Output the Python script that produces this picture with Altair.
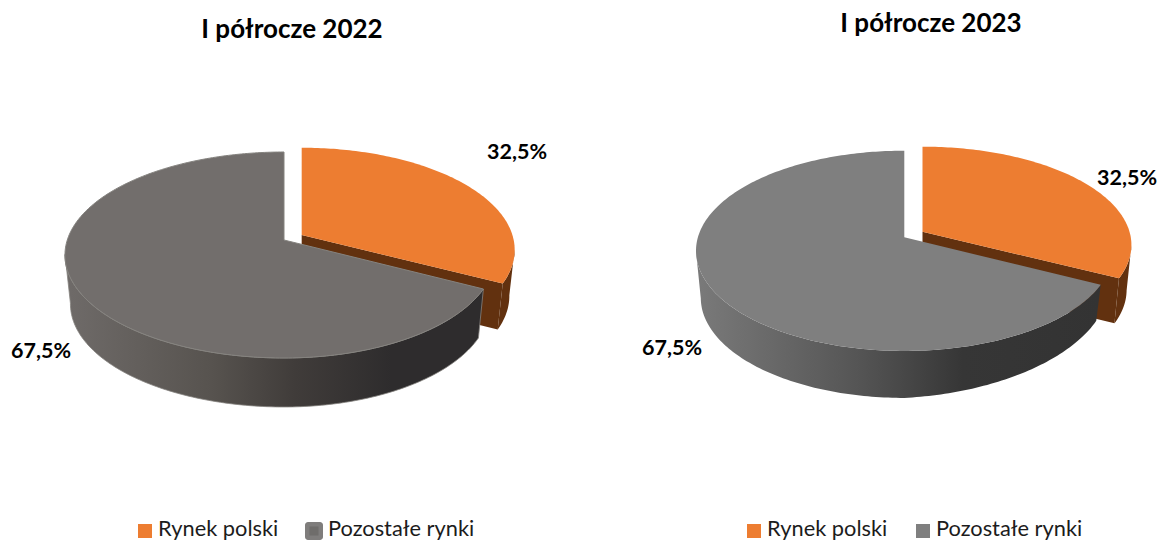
import numpy as np
import pandas as pd
import altair as alt

categories = ["Rynek polski", "Pozostałe rynki"]
panel_titles = ["I półrocze 2022", "I półrocze 2023"]
shares_2022 = [32.5, 67.5]
shares_2023 = [32.5, 67.5]

ORANGE = "#ed7d31"
BROWN = "#62310f"
XS = alt.Scale(domain=[8, 1158])
YS = alt.Scale(domain=[541, 8])


def pts(g, t0, t1, bottom=False):
    th = np.radians(np.arange(t0, t1 + 0.001, 1.0))
    u, v = np.sin(th), np.cos(th)
    d = 1 + g["k"] * v
    r = np.where(u > 0, g["rr"], g["rl"])
    s = g["shrink"] if bottom else 1.0
    x = g["cx"] + s * r * u / d
    y = g["cy"] - g["s"] * v / d
    if bottom:
        tip = g.get("tip_depth", g["depth"])
        frac = np.clip(u / np.sin(np.radians(117)), 0, 1)
        y = y + g["depth"] + (tip - g["depth"]) * frac
    return list(zip(x, y))


def poly(points, fill, stroke=None, sw=0):
    df = pd.DataFrame(points + points[:1], columns=["x", "y"])
    df["i"] = range(len(df))
    mk = dict(fill=fill, strokeWidth=sw, stroke=stroke if stroke else "transparent", interpolate="linear", clip=False)
    return alt.Chart(df).mark_line(**mk).encode(
        x=alt.X("x:Q", scale=XS, axis=None),
        y=alt.Y("y:Q", scale=YS, axis=None),
        order=alt.Order("i:Q"),
    )


def grad(stops):
    return alt.LinearGradient(gradient="linear", x1=0, x2=1, y1=0, y2=0,
                              stops=[alt.GradientStop(offset=o, color=c) for o, c in stops])


def pie(shares, go, gg, gray_top, wall_stops, edge):
    a = shares[0] * 3.6
    layers = []
    apex = (go["cx"], go["cy"])
    corner = pts(go, a, a)[0]
    corner_b = pts(go, a, a, True)[0]
    apex_b = (go["cx"], go["cy"] + go["depth"])
    layers.append(poly([apex, corner, corner_b, apex_b], BROWN))
    layers.append(poly(pts(go, 98, a) + pts(go, 98, a, True)[::-1], BROWN))
    layers.append(poly([apex] + pts(go, 0, a), ORANGE))
    layers.append(poly(pts(gg, a, 262) + pts(gg, a, 262, True)[::-1], grad(wall_stops), edge, 0.8 if edge else 0))
    layers.append(poly([(gg["cx"], gg["cy"])] + pts(gg, a, 360), gray_top, edge, 1 if edge else 0))
    return layers


geo_o1 = dict(cx=301.7, cy=235, rr=210.7, rl=210.7, s=100, k=0.1456, shrink=0.975, depth=46)
geo_g1 = dict(cx=284, cy=240, rr=209, rl=216.7, s=100.8, k=0.1456, shrink=0.975, depth=49)
geo_o2 = dict(cx=922.5, cy=231.7, rr=207, rl=207, s=96.5, k=0.135, shrink=0.977, depth=45)
geo_g2 = dict(cx=904.3, cy=237.3, rr=207, rl=206.4, s=98.3, k=0.135, shrink=0.977, depth=47, tip_depth=36)

layers = []
layers += pie(shares_2022, geo_o1, geo_g1, "#726e6c",
              [(0, "#6f6b69"), (0.35, "#57534f"), (0.55, "#403c3a"), (0.78, "#2e2c2d"), (1, "#2e2c2d")], "#85837f")
layers += pie(shares_2023, geo_o2, geo_g2, "#7f7f7f",
              [(0, "#7a7a7a"), (0.4, "#555555"), (0.66, "#363636"), (1, "#333333")], None)

FONT = "Lato"


def txt(rows, size, bold=True, align="center"):
    return alt.Chart(pd.DataFrame(rows, columns=["x", "y", "t"])).mark_text(
        font=FONT, fontSize=size, fontWeight="bold" if bold else "normal",
        align=align, baseline="middle", color="#000000" if bold else "#1c1c1c",
    ).encode(x=alt.X("x:Q", scale=XS, axis=None), y=alt.Y("y:Q", scale=YS, axis=None), text="t:N")


fmt = lambda v: f"{v:.1f}%".replace(".", ",")
layers.append(txt([(292, 30, panel_titles[0]), (931, 24, panel_titles[1])], 26))
layers.append(txt([(517, 153, fmt(shares_2022[0])), (41, 352, fmt(shares_2022[1])),
                   (1127, 179, fmt(shares_2023[0])), (672, 349, fmt(shares_2023[1]))], 21.5))
layers.append(txt([(158, 529, categories[0]), (328, 529, categories[1]),
                   (767, 529, categories[0]), (936, 529, categories[1])], 21.8, bold=False, align="left"))


def swatch(x, y, size, color, radius=0):
    h = size / 2
    df = pd.DataFrame({"x": [x - h], "x2": [x + h], "y": [y - h], "y2": [y + h]})
    return alt.Chart(df).mark_rect(fill=color, cornerRadius=radius).encode(
        x=alt.X("x:Q", scale=XS, axis=None), x2="x2:Q",
        y=alt.Y("y:Q", scale=YS, axis=None), y2="y2:Q")


layers += [swatch(145, 531, 14, ORANGE), swatch(314, 531, 18, "#7f7d7c", 3), swatch(314, 531, 9, "#6f6d6b"),
           swatch(754, 531, 14, ORANGE), swatch(923, 531, 14, "#7f7f7f")]

chart = alt.layer(*layers).properties(
    width=1150, height=533, padding=0,
    autosize=alt.AutoSizeParams(type="none"),
    background="white",
).configure_view(stroke=None)

chart.save("out.html", embed_options={"renderer": "svg", "actions": False})
